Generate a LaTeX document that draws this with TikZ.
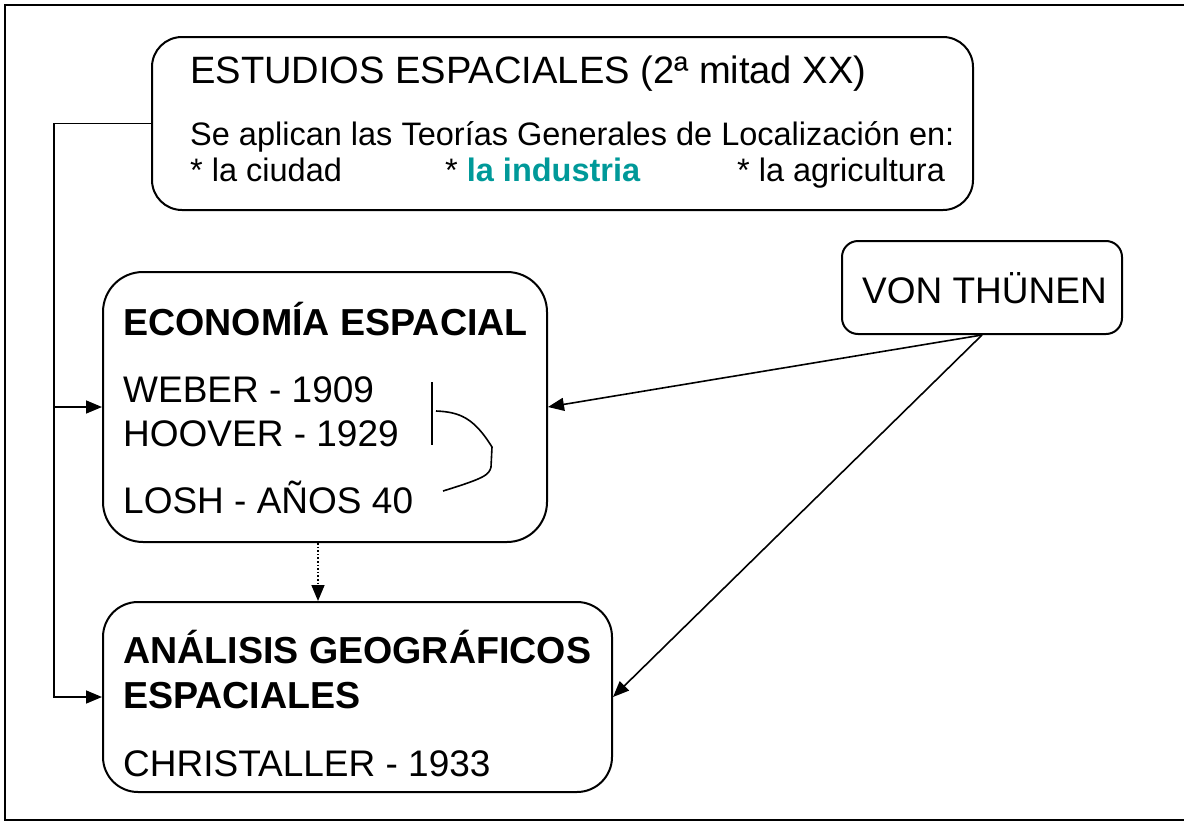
\documentclass[tikz,border=0pt]{standalone}
\usepackage{fontspec}
\setmainfont{Liberation Sans}
\usetikzlibrary{arrows.meta}
\definecolor{teal}{RGB}{0,153,153}
\begin{document}
\begin{tikzpicture}[x=1pt,y=-1pt,
  box/.style={draw,line width=2pt,inner sep=0pt},
  txt/.style={anchor=base west,inner sep=0pt,font=\fontsize{37}{44}\selectfont},
  btxt/.style={anchor=base west,inner sep=0pt,font=\fontsize{37.6}{44}\selectfont\bfseries},
  stxt/.style={anchor=base west,inner sep=0pt,font=\fontsize{32.5}{39}\selectfont},
  arr/.style={line width=1.6pt,-{Triangle[length=16pt,width=13pt]}},
]
\useasboundingbox (0,0) rectangle (1184,822);
\draw[line width=2.2pt] (1184,5) -- (5,5) -- (5,820) -- (1184,820);
% boxes
\node[box,rounded corners=30pt,minimum width=821pt,minimum height=173pt] (top) at (562.5,123.5) {};
\node[box,rounded corners=16pt,minimum width=280pt,minimum height=93pt] (von) at (982,287.5) {};
\node[box,rounded corners=40pt,minimum width=444pt,minimum height=270pt] (eco) at (325,407) {};
\node[box,rounded corners=35pt,minimum width=509pt,minimum height=190pt] (ana) at (357.5,697) {};
% texts
\node[txt,font=\fontsize{38.1}{44}\selectfont] (t1) at (190,83) {ESTUDIOS ESPACIALES (2ª mitad XX)};
\node[stxt] (t2) at (190,145) {Se aplican las Teorías Generales de Localización en:};
\node[stxt] (t3) at (190,181) {* la ciudad};
\node[stxt] (t4) at (445,181) {* \textcolor{teal}{\textbf{la industria}}};
\node[stxt] (t5) at (737,181) {* la agricultura};
\node[txt] (v1) at (862,303) {VON THÜNEN};
\node[btxt] (e1) at (123,335) {ECONOMÍA ESPACIAL};
\node[txt] (e2) at (123,402) {WEBER - 1909};
\node[txt] (e3) at (123,446) {HOOVER - 1929};
\node[txt] (e4) at (123,513) {LOSH - AÑOS 40};
\node[btxt] (a1) at (123,663) {ANÁLISIS GEOGRÁFICOS};
\node[btxt] (a2) at (123,708) {ESPACIALES};
\node[txt] (a3) at (123,776) {CHRISTALLER - 1933};
% bracket
\draw[line width=1.6pt] (432,382) -- (432,445);
\draw[line width=1.6pt] (436,411) .. controls (460,412) and (474,418) .. (492,447) -- (491,467) .. controls (489,475) and (485,478) .. (443,491);
% connectors
\coordinate (lc) at (54,123.5);
\draw[arr] (top.west) -- (lc) |- (eco.west);
\draw[arr] (lc) |- (ana.west);
\draw[arr,dotted] (eco.south -| 318,0) -- (ana.north -| 318,0);
\draw[arr] (von.south) -- (eco.east);
\draw[arr] (von.south) -- (ana.east);
\end{tikzpicture}
\end{document}
